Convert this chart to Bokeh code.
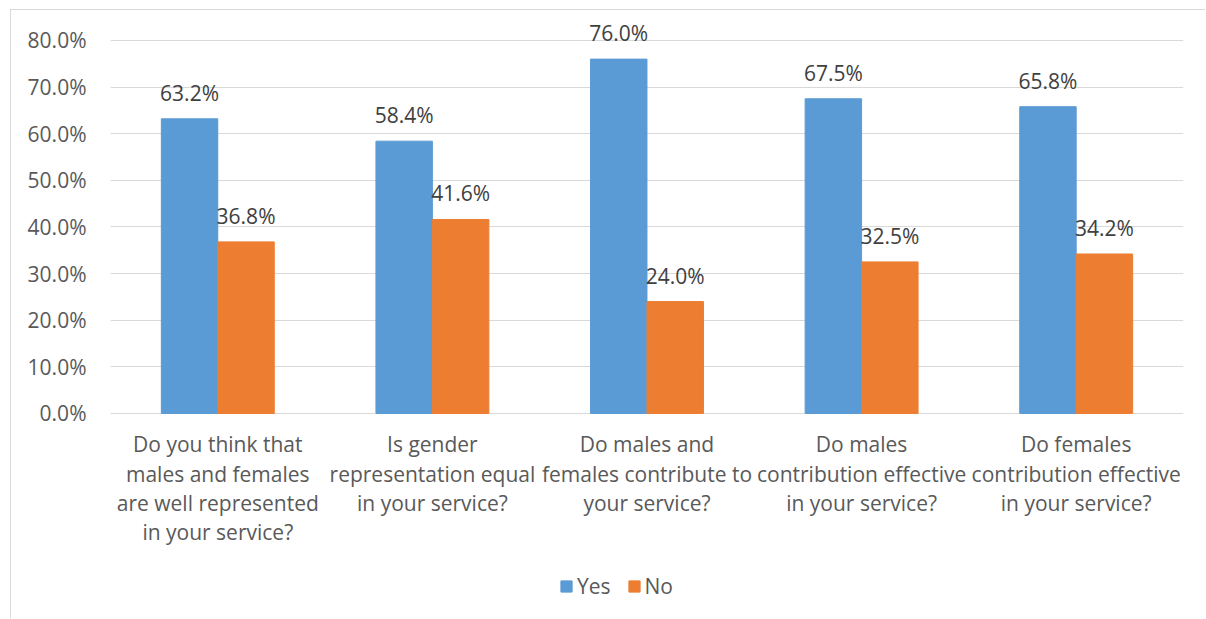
from bokeh.plotting import figure
from bokeh.models import (ColumnDataSource, FactorRange, Range1d, FixedTicker,
                          PrintfTickFormatter, Legend, LegendItem)
from bokeh.transform import dodge
from bokeh.core.properties import value
from bokeh.embed import file_html
from bokeh.resources import INLINE

# Survey questions (wrapped as they appear under each group)
questions = [
    "Do you think that\nmales and females\nare well represented\nin your service?",
    "Is gender\nrepresentation equal\nin your service?",
    "Do males and\nfemales contribute to\nyour service?",
    "Do males\ncontribution effective\nin your service?",
    "Do females\ncontribution effective\nin your service?",
]
yes_pct = [63.2, 58.4, 76.0, 67.5, 65.8]
no_pct = [36.8, 41.6, 24.0, 32.5, 34.2]
y_ticks = [0, 10, 20, 30, 40, 50, 60, 70, 80]

FONT = "Open Sans"
FS = "21px"
BLUE = "#5B9BD5"
ORANGE = "#ED7D31"

src = ColumnDataSource(dict(
    q=questions,
    yes=yes_pct,
    no=no_pct,
    yes_lbl=[f"{v:.1f}%" for v in yes_pct],
    no_lbl=[f"{v:.1f}%" for v in no_pct],
    zero=[0] * len(questions),
))

p = figure(
    width=1195, height=609,
    x_range=FactorRange(*questions, range_padding=0),
    y_range=Range1d(-44.2, 86.43),
    output_backend="svg", toolbar_location=None,
    min_border_left=99, min_border_right=23, min_border_top=0, min_border_bottom=0,
    styles={"margin-left": "10px", "margin-top": "9px",
            "border-left": "1px solid #d9d9d9", "border-top": "1px solid #d9d9d9"},
)
p.outline_line_color = None
p.background_fill_color = "white"
p.border_fill_color = "white"

bw = 0.263
off = 0.1316
r_yes = p.vbar(x=dodge("q", -off, range=p.x_range), top="yes", bottom=0, width=bw,
               source=src, fill_color=BLUE, line_color=BLUE)
r_no = p.vbar(x=dodge("q", off, range=p.x_range), top="no", bottom=0, width=bw,
              source=src, fill_color=ORANGE, line_color=ORANGE)

# value labels above each bar
for col, lbl, d in (("yes", "yes_lbl", -off), ("no", "no_lbl", off)):
    p.text(x=dodge("q", d, range=p.x_range), y=col, text=lbl, source=src,
           text_align="center", text_baseline="alphabetic", y_offset=-26,
           text_font=value(FONT), text_font_size=FS, text_color="#404040")

# question labels under each group
p.text(x="q", y="zero", text="q", source=src, text_align="center",
       text_baseline="top", y_offset=17, text_line_height=1.04,
       text_font=value(FONT), text_font_size=FS, text_color="#595959")

# axes and grid
p.xaxis.visible = False
p.xgrid.visible = False
p.yaxis.ticker = FixedTicker(ticks=y_ticks)
p.yaxis.formatter = PrintfTickFormatter(format="%.1f%%")
p.yaxis.axis_line_color = None
p.yaxis.major_tick_line_color = None
p.yaxis.minor_tick_line_color = None
p.yaxis.major_tick_out = 0
p.yaxis.major_label_standoff = 24
p.yaxis.major_label_text_font = FONT
p.yaxis.major_label_text_font_size = FS
p.yaxis.major_label_text_color = "#595959"
p.ygrid.ticker = FixedTicker(ticks=y_ticks)
p.ygrid.grid_line_color = "#d9d9d9"
p.ygrid.grid_line_width = 1

legend = Legend(
    items=[LegendItem(label="Yes", renderers=[r_yes]), LegendItem(label="No", renderers=[r_no])],
    orientation="horizontal", location=(449, 19),
    glyph_width=14, glyph_height=14, label_standoff=4, spacing=16,
    padding=0, margin=0, border_line_color=None, background_fill_alpha=0,
    label_text_font=FONT, label_text_font_size=FS, label_text_color="#595959",
)
p.add_layout(legend)

open("out.html", "w").write(file_html(p, INLINE))
